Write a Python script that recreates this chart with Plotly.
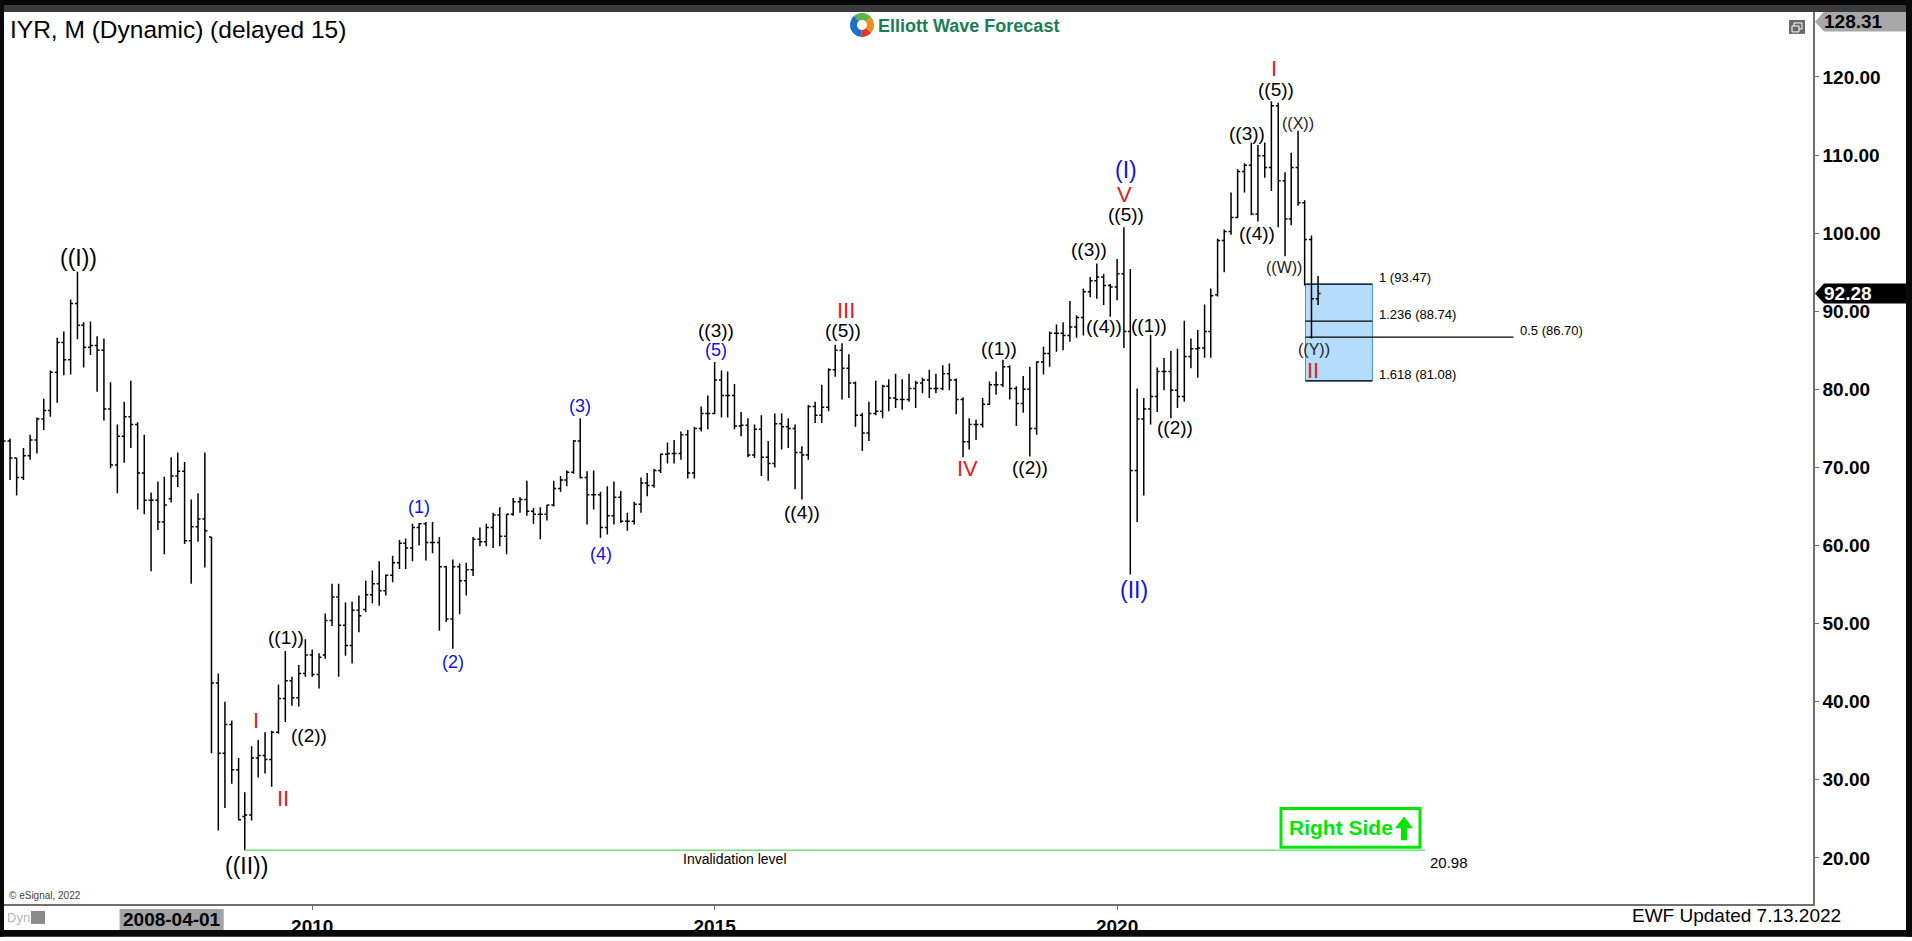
import numpy as np
import pandas as pd
import plotly.graph_objects as go

# ---------------- data (monthly OHLC, IYR) ----------------
first_month = "2006-03-01"
open_ = [
    71.5, 73.4, 71.2, 68.7, 71.5, 73.5, 76.2, 77.3, 82.2, 86.0,
    83.8, 91.0, 88.2, 85.4, 85.6, 85.0, 77.5, 70.3, 74.0, 76.5, 75.5, 69.3,
    65.8, 65.8, 63.0, 66.0, 68.9, 69.5, 60.6, 62.4, 63.4, 61.1, 42.4, 33.4,
    37.1, 31.3, 25.3, 25.5, 32.8, 33.1, 32.6, 36.1, 40.4, 42.7, 40.5, 43.6,
    46.0, 43.5, 46.0, 50.4, 53.4, 49.8, 47.2, 51.7, 51.8, 53.7, 55.1, 54.2,
    56.2, 57.8, 60.3, 59.7, 62.3, 62.8, 60.4, 60.4, 57.3, 50.6, 57.3, 55.5,
    56.9, 60.8, 60.5, 62.3, 63.9, 61.2, 64.0, 65.6, 65.9, 64.4, 64.0, 64.0,
    65.2, 67.3, 68.4, 69.4, 73.4, 68.7, 66.5, 66.5, 62.3, 63.8, 66.2, 63.1,
    63.1, 65.3, 68.0, 67.7, 69.6, 71.7, 71.8, 71.8, 74.2, 69.3, 75.0, 76.9,
    76.9, 81.2, 79.2, 79.2, 75.3, 75.4, 71.6, 74.9, 71.3, 70.5, 75.6, 75.2,
    75.0, 71.9, 71.6, 77.8, 76.7, 77.7, 82.5, 85.0, 82.7, 80.8, 76.7, 74.4,
    76.9, 77.2, 80.4, 78.9, 78.7, 78.7, 80.1, 80.8, 81.2, 80.1, 80.1, 82.0,
    81.2, 78.7, 73.3, 75.5, 75.5, 78.1, 80.6, 80.6, 82.9, 80.1, 78.2, 80.0,
    75.0, 83.5, 84.6, 87.2, 87.2, 86.9, 88.0, 89.2, 92.5, 93.9, 94.4, 93.3,
    93.1, 94.8, 87.4, 69.6, 76.2, 77.5, 79.1, 82.3, 82.3, 79.9, 79.1, 84.2,
    85.2, 85.3, 87.4, 92.1, 99.05, 100.2, 102.0, 107.9, 108.7, 102.45, 109.9, 108.4,
    116.3, 106.7, 101.8, 108.4, 103.9, 99.2, 91.6,
]
high = [
    74.0, 73.7, 71.2, 72.5, 74.2, 76.4, 78.8, 82.4, 86.6, 87.4,
    91.5, 95.05, 88.6, 88.7, 86.8, 86.5, 80.9, 75.5, 78.4, 81.1, 75.8, 74.2,
    66.8, 68.2, 68.8, 71.3, 71.9, 70.7, 65.9, 66.7, 71.9, 61.1, 43.6, 40.0,
    37.6, 32.8, 28.4, 34.3, 35.1, 36.1, 36.3, 42.2, 46.5, 43.2, 44.7, 48.0,
    46.7, 46.2, 51.3, 55.1, 55.1, 52.7, 52.8, 53.6, 55.5, 56.8, 58.0, 56.3,
    58.7, 60.7, 60.9, 62.8, 62.9, 63.0, 63.0, 61.1, 57.4, 58.2, 57.7, 57.8,
    61.1, 62.3, 62.8, 64.2, 64.9, 64.0, 66.1, 66.2, 68.3, 64.8, 64.9, 65.2,
    68.3, 68.9, 69.6, 73.5, 76.3, 69.5, 69.6, 66.9, 67.6, 68.2, 67.0, 64.2,
    65.6, 68.7, 69.3, 69.8, 71.8, 73.2, 73.5, 74.6, 74.8, 75.2, 77.8, 79.2,
    83.5, 82.4, 82.3, 80.7, 77.1, 76.3, 75.5, 76.7, 73.4, 76.9, 76.9, 76.3,
    75.5, 72.7, 78.0, 78.4, 80.6, 82.7, 85.7, 85.9, 84.5, 81.0, 77.0, 78.4,
    81.1, 80.6, 81.3, 82.0, 81.3, 82.0, 81.1, 81.5, 82.5, 82.0, 83.1, 83.3,
    81.4, 79.0, 76.3, 76.1, 78.9, 81.0, 82.3, 83.8, 83.1, 80.4, 81.7, 82.9,
    83.6, 85.45, 87.4, 88.3, 88.6, 91.3, 89.5, 92.9, 94.4, 96.1, 94.8, 93.5,
    96.7, 100.75, 95.4, 80.1, 78.9, 87.0, 82.8, 84.0, 84.9, 85.2, 88.8, 86.5,
    87.6, 90.85, 92.9, 99.3, 100.46, 105.2, 108.2, 108.96, 111.6, 111.3, 111.6, 116.9,
    116.7, 107.8, 110.3, 113.1, 104.2, 99.7, 94.5,
]
low = [
    70.5, 68.4, 66.4, 68.4, 71.0, 71.8, 74.8, 76.5, 78.3, 81.8,
    81.9, 86.4, 82.8, 84.4, 79.7, 76.0, 69.9, 66.7, 70.6, 72.5, 64.6, 64.0,
    56.7, 62.0, 58.9, 65.5, 67.5, 60.2, 55.1, 60.5, 57.2, 33.4, 23.5, 26.4,
    29.5, 24.8, 20.98, 24.8, 30.3, 30.8, 29.1, 35.9, 37.4, 39.5, 39.4, 43.2,
    43.2, 41.7, 45.5, 49.7, 43.2, 45.9, 44.9, 48.9, 51.5, 52.6, 52.3, 53.6,
    55.3, 57.0, 57.0, 58.0, 60.0, 58.1, 59.0, 49.1, 50.2, 46.8, 51.2, 53.6,
    56.1, 59.9, 59.9, 59.7, 59.9, 58.9, 63.8, 64.2, 63.8, 62.8, 60.8, 63.2,
    65.0, 66.9, 67.6, 69.2, 68.6, 62.7, 64.6, 61.0, 61.4, 62.7, 62.9, 61.9,
    62.7, 64.2, 66.3, 67.4, 69.3, 70.5, 70.5, 71.0, 68.6, 68.6, 74.6, 74.9,
    76.8, 76.4, 76.4, 74.9, 74.0, 71.3, 71.2, 68.9, 68.3, 70.0, 72.3, 72.5,
    67.2, 65.9, 71.0, 75.7, 75.7, 77.2, 81.6, 78.7, 78.9, 75.2, 72.1, 73.4,
    76.7, 76.3, 77.2, 77.6, 77.4, 78.4, 77.6, 79.5, 78.9, 79.5, 79.9, 79.9,
    76.8, 71.3, 72.3, 73.5, 75.1, 78.0, 79.3, 80.3, 78.7, 75.3, 77.0, 71.4,
    74.2, 81.9, 82.9, 84.8, 85.0, 86.1, 86.6, 86.9, 91.8, 91.6, 90.8, 89.3,
    91.4, 85.3, 56.3, 63.0, 66.4, 75.5, 77.1, 79.9, 76.3, 77.6, 78.4, 82.7,
    81.5, 84.05, 84.05, 91.9, 95.0, 99.8, 101.9, 105.2, 102.3, 101.5, 107.1, 105.4,
    100.75, 97.05, 101.0, 103.5, 93.3, 86.5, 90.8,
]
close = [
    73.4, 71.2, 68.7, 71.5, 73.5, 76.2, 77.3, 82.2, 86.0, 83.8,
    91.0, 88.2, 85.4, 85.6, 85.0, 77.5, 70.3, 74.0, 76.5, 75.5, 69.3, 65.8,
    65.8, 63.0, 65.2, 68.9, 69.5, 60.6, 62.4, 63.4, 61.9, 42.4, 33.4, 37.1,
    31.3, 24.9, 25.5, 32.8, 33.1, 32.6, 36.1, 40.4, 42.7, 40.5, 43.6, 46.0,
    43.5, 45.7, 50.4, 53.4, 49.8, 47.2, 51.7, 51.0, 53.7, 55.1, 54.2, 56.2,
    57.8, 60.3, 59.7, 62.3, 62.8, 60.4, 60.4, 57.3, 50.6, 57.3, 55.5, 56.9,
    60.8, 60.5, 62.3, 63.9, 61.2, 64.0, 65.6, 65.9, 64.4, 64.0, 64.0, 65.2,
    67.3, 68.4, 69.4, 73.4, 68.7, 66.5, 66.5, 62.3, 63.8, 66.2, 63.1, 63.1,
    65.3, 68.0, 67.7, 69.6, 71.7, 71.8, 71.8, 74.2, 69.3, 75.0, 76.9, 76.9,
    81.2, 79.2, 79.2, 75.3, 75.4, 71.6, 74.9, 71.3, 70.5, 75.6, 75.2, 75.0,
    71.9, 71.6, 77.8, 76.7, 77.7, 82.5, 85.0, 82.7, 80.8, 76.7, 74.4, 76.9,
    77.2, 80.4, 78.9, 78.7, 78.7, 80.1, 80.8, 81.2, 80.1, 80.1, 82.0, 81.2,
    78.7, 73.3, 75.5, 75.5, 78.1, 80.6, 80.6, 82.9, 80.1, 78.2, 80.0, 75.0,
    83.5, 84.6, 87.2, 87.2, 86.9, 88.0, 89.2, 92.5, 93.9, 94.4, 93.3, 93.1,
    94.8, 87.4, 69.6, 76.2, 77.5, 79.1, 82.3, 82.3, 79.9, 79.1, 84.2, 85.2,
    85.3, 87.4, 92.0, 99.05, 100.2, 102.0, 107.9, 108.7, 102.45, 109.9, 108.4, 116.3,
    106.7, 101.8, 108.4, 103.9, 99.2, 91.6, 92.28,
]
months = pd.date_range(first_month, periods=len(close), freq="MS")

y_ticks = [20, 30, 40, 50, 60, 70, 80, 90, 100, 110, 120]
x_tick_dates = ["2010-01-01", "2015-01-01", "2020-01-01"]
x_tick_text = ["2010", "2015", "2020"]

last_price = 92.28
scale_top = 128.31
invalidation = 20.98
fib_levels = [93.47, 88.74, 81.08]
fib_text = ["1 (93.47)", "1.236 (88.74)", "1.618 (81.08)"]
half_level = 86.70
half_text = "0.5 (86.70)"

RED, BLUE, BLK, GRY = "#e01b24", "#1010e6", "#000000", "#222222"
# wave labels: text, decimal year, price, colour, font size
wave_labels = [
    ("((I))", 2007.103, 96.84, BLK, 23),
    ("((II))", 2009.18, 19.03, BLK, 23),
    ("I", 2009.306, 37.55, RED, 22),
    ("II", 2009.636, 27.65, RED, 22),
    ("((1))", 2009.671, 48.17, BLK, 19),
    ("((2))", 2009.965, 35.64, BLK, 19),
    ("(1)", 2011.327, 64.96, BLUE, 18),
    ("(2)", 2011.749, 45.08, BLUE, 18),
    ("(3)", 2013.332, 77.93, BLUE, 18),
    ("(4)", 2013.585, 58.97, BLUE, 18),
    ("((3))", 2015.015, 87.49, BLK, 19),
    ("(5)", 2015.015, 85.02, BLUE, 18),
    ("III", 2016.627, 90.12, RED, 22),
    ("((5))", 2016.597, 87.57, BLK, 19),
    ("((4))", 2016.08, 64.29, BLK, 19),
    ("IV", 2018.144, 69.81, RED, 22),
    ("((1))", 2018.534, 85.24, BLK, 19),
    ("((2))", 2018.914, 69.94, BLK, 19),
    ("((3))", 2019.655, 97.92, BLK, 19),
    ("((5))", 2020.106, 102.44, BLK, 19),
    ("V", 2020.09, 105.0, RED, 22),
    ("(I)", 2020.106, 108.1, BLUE, 23),
    ("((4))", 2019.842, 88.08, BLK, 19),
    ("((1))", 2020.40, 88.2, BLK, 19),
    ("(II)", 2020.207, 54.34, BLUE, 23),
    ("((2))", 2020.724, 75.13, BLK, 19),
    ("((3))", 2021.612, 112.76, BLK, 19),
    ("((4))", 2021.733, 99.9, BLK, 19),
    ("((5))", 2021.967, 118.45, BLK, 19),
    ("I", 2021.942, 121.1, RED, 22),
    ("((X))", 2022.242, 114.05, GRY, 16),
    ("((W))", 2022.072, 95.65, GRY, 16),
    ("((Y))", 2022.444, 85.11, GRY, 16),
    ("II", 2022.43, 82.47, RED, 22),
]

# ---------------- geometry helpers ----------------
W, H = 1912, 941
PL, PR, PT, PB = 4, 1813, 12, 908
T0 = pd.Timestamp("2010-01-01")
PX_PER_YEAR = 80.5
X0_PX = 312.2


def yr2date(t):
    return (T0 + pd.Timedelta(days=(t - 2010) * 365.25)).strftime("%Y-%m-%d %H:%M")


def px_to_year(p):
    return 2010 + (p - X0_PX) / PX_PER_YEAR


def pxx(p):
    return (p - PL) / (PR - PL)


def pxy(p):
    return (PB - p) / (PB - PT)


x_range = [yr2date(px_to_year(PL)), yr2date(px_to_year(PR))]
y_range = [14.1, 128.32]
FONT = "Liberation Sans, Arial, sans-serif"

fig = go.Figure()
fig.add_trace(go.Ohlc(
    x=months, open=open_, high=high, low=low, close=close,
    increasing=dict(line=dict(color="black", width=1.5)),
    decreasing=dict(line=dict(color="black", width=1.5)),
    tickwidth=0.4, hoverinfo="skip", showlegend=False,
))

shapes = []
ann = []


def text(x, y, txt, size, color="black", xa="center", ya="middle", ref="paper", weight="normal"):
    ann.append(dict(x=x, y=y, xref=ref if ref == "paper" else "x", yref=ref if ref == "paper" else "y",
                    text=txt, showarrow=False, xanchor=xa, yanchor=ya,
                    font=dict(family=FONT, size=size, color=color, weight=weight)))


# wave labels
for txt, t, p, col, sz in wave_labels:
    text(yr2date(t), p, txt, sz, col, ref="data")

# invalidation line and texts
shapes.append(dict(type="line", xref="x", yref="y", x0=months[36].strftime("%Y-%m-%d"),
                   x1=yr2date(2023.823), y0=invalidation, y1=invalidation,
                   line=dict(color="#7ddc7d", width=1.3)))
text(yr2date(2015.248), 19.85, "Invalidation level", 14, ref="data")
text(yr2date(2023.86), 19.45, f"{invalidation:.2f}", 15, xa="left", ref="data")

# blue target box + fib lines
bx0, bx1 = yr2date(2022.339), yr2date(2023.17)
shapes.append(dict(type="rect", xref="x", yref="y", x0=bx0, x1=bx1, y0=fib_levels[2], y1=fib_levels[0],
                   fillcolor="#b5dcfb", line=dict(color="#3d95dc", width=1), layer="below"))
for lv in fib_levels:
    shapes.append(dict(type="line", xref="x", yref="y", x0=bx0, x1=bx1, y0=lv, y1=lv,
                       line=dict(color="black", width=1.2)))
shapes.append(dict(type="line", xref="x", yref="y", x0=bx0, x1=yr2date(2024.923), y0=half_level,
                   y1=half_level, line=dict(color="black", width=1.2)))
for lv, txt in zip(fib_levels, fib_text):
    text(yr2date(2023.231), lv + 0.85, txt, 13, xa="left", ref="data")
text(yr2date(2024.977), half_level + 0.87, half_text, 13, xa="left", ref="data")


# price tags on the right axis
def tag(cy_px, fill, txt, txtcol):
    top, bot = cy_px - 10, cy_px + 10
    path = (f"M {pxx(1815)},{pxy(cy_px)} L {pxx(1824)},{pxy(top)} L {pxx(1907)},{pxy(top)} "
            f"L {pxx(1907)},{pxy(bot)} L {pxx(1824)},{pxy(bot)} Z")
    shapes.append(dict(type="path", xref="paper", yref="paper", path=path, fillcolor=fill,
                       line=dict(width=0), layer="above"))
    text(pxx(1822), pxy(cy_px), txt, 19, txtcol, xa="left", weight="bold")


y_last_px = PB - (last_price - y_range[0]) / (y_range[1] - y_range[0]) * (PB - PT)
tag(21.7, "#a8a8a8", f"{scale_top:.2f}", "black")
tag(y_last_px, "black", f"{last_price:.2f}", "white")

# Right Side box
shapes.append(dict(type="rect", xref="paper", yref="paper", x0=pxx(1281), x1=pxx(1420),
                   y0=pxy(851), y1=pxy(812), fillcolor="white", line=dict(color="#00e600", width=3)))
text(pxx(1287), pxy(831.5), "Right Side", 21, "#00e600", xa="left", weight="bold")
arrow = [(1401, 844), (1407, 844), (1407, 832), (1413, 832), (1404, 820), (1395, 832), (1401, 832)]
shapes.append(dict(type="path", xref="paper", yref="paper",
                   path="M " + " L ".join(f"{pxx(a)},{pxy(b)}" for a, b in arrow) + " Z",
                   fillcolor="#00e600", line=dict(width=0)))


# frame
def prect(x0, y0, x1, y1, fill, layer="above", line=None):
    shapes.append(dict(type="rect", xref="paper", yref="paper", x0=pxx(x0), x1=pxx(x1),
                       y0=pxy(y1), y1=pxy(y0), fillcolor=fill, layer=layer,
                       line=line or dict(width=0)))


prect(0, 0, W, 5, "#050505")
prect(0, 5, W, 12, "#3b3b3b")
prect(0, 0, 4, H, "#0a0a0a")
prect(1906, 0, W, H, "#0a0a0a")
prect(0, 934, W, H, "#0a0a0a")

# restore icon
prect(1789, 20, 1805, 34, "#6a6a6a")
prect(1794, 23, 1802, 29, "rgba(0,0,0,0)", line=dict(color="white", width=1))
prect(1792, 26, 1799, 32, "#6a6a6a", line=dict(color="white", width=1))

# date cursor label, Dyn
prect(119.6, 913, 223.7, 934, "#a3a3a3")
text(pxx(171.6), pxy(924), "2008-04-01", 19, weight="bold")
text(pxx(5), pxy(922), "Dyn", 13, "#b8b8b8", xa="left")
prect(31, 915, 45, 928, "#8a8a8a")

# texts
text(pxx(8), pxy(30), "IYR, M (Dynamic) (delayed 15)", 24.5, xa="left")
text(pxx(7), pxy(899), "© eSignal, 2022", 10, "#444444", xa="left")
text(pxx(1843), pxy(920), "EWF Updated 7.13.2022", 19, xa="right")

# logo
text(pxx(876), pxy(26), "Elliott Wave Forecast", 18, "#1b7d55", xa="left", weight="bold")
cx, cy, ro, ri = 862, 25, 12, 5
for a0, a1, col in [(40, 130, "#5db548"), (130, 265, "#1f6fc4"), (265, 320, "#e2352b"), (320, 400, "#f28c1e")]:
    ang = np.radians(np.linspace(a0, a1, 16))
    pts = [(cx + ro * np.cos(a), cy - ro * np.sin(a)) for a in ang]
    pts += [(cx + ri * np.cos(a), cy - ri * np.sin(a)) for a in ang[::-1]]
    shapes.append(dict(type="path", xref="paper", yref="paper",
                       path="M " + " L ".join(f"{pxx(a)},{pxy(b)}" for a, b in pts) + " Z",
                       fillcolor=col, line=dict(width=0)))

fig.update_layout(
    width=W, height=H,
    margin=dict(l=PL, r=W - PR, t=PT, b=H - PB, pad=0),
    paper_bgcolor="white", plot_bgcolor="white",
    showlegend=False, hovermode=False,
    shapes=shapes, annotations=ann,
    xaxis=dict(type="date", range=x_range, tickvals=x_tick_dates, ticktext=x_tick_text,
               ticks="outside", ticklen=4, tickcolor="#707070", showline=True, linecolor="#707070",
               linewidth=1.5, showgrid=False, zeroline=False, rangeslider=dict(visible=False),
               tickfont=dict(family=FONT, size=19, color="black", weight="bold")),
    yaxis=dict(range=y_range, side="right", tickvals=y_ticks, tickformat=".2f",
               ticks="outside", ticklen=4, tickcolor="#707070", showline=True, linecolor="#707070",
               linewidth=1.5, showgrid=False, zeroline=False,
               tickfont=dict(family=FONT, size=19, color="black", weight="bold")),
)

fig.write_html("out.html", config={"displayModeBar": False},
               post_script="document.body.style.margin='0';document.body.style.overflow='hidden';")
